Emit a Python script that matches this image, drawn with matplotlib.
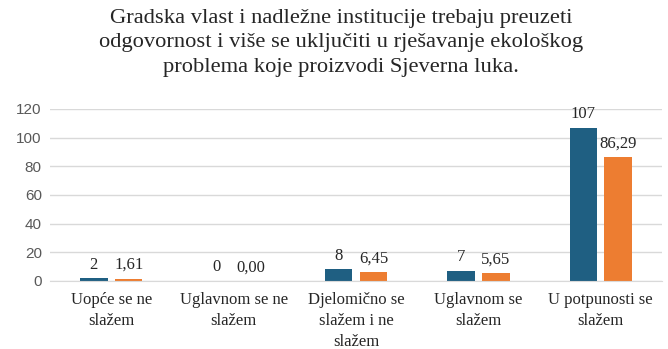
import numpy as np
import matplotlib.pyplot as plt

categories = ['Uopće se ne\nslažem', 'Uglavnom se ne\nslažem', 'Djelomično se\nslažem i ne\nslažem',
              'Uglavnom se\nslažem', 'U potpunosti se\nslažem']
counts = [2, 0, 8, 7, 107]
percents = [1.61, 0.00, 6.45, 5.65, 86.29]

blue = '#1f5f82'
orange = '#ed7d31'
serif = 'Liberation Serif'

fig = plt.figure(figsize=(6.68, 3.49), dpi=100)
ax = fig.add_axes([0.075, 0.195, 0.916, 0.493])

x = np.arange(len(categories))
w = 0.225
b1 = ax.bar(x - w / 2 - 0.03, counts, w, color=blue)
b2 = ax.bar(x + w / 2 + 0.03, percents, w, color=orange)

for bar, v in zip(b1, counts):
    ax.annotate(f'{v}', (bar.get_x() + bar.get_width() / 2, v), xytext=(0, 4),
                textcoords='offset points', ha='center', va='bottom',
                fontsize=12, family=serif, color='#262626')
for bar, v in zip(b2, percents):
    ax.annotate(f'{v:.2f}'.replace('.', ','), (bar.get_x() + bar.get_width() / 2, v), xytext=(0, 4),
                textcoords='offset points', ha='center', va='bottom',
                fontsize=12, family=serif, color='#262626')

ax.set_xlim(-0.5, len(categories) - 0.5)
ax.set_ylim(0, 120)
ax.set_yticks(range(0, 121, 20))
ax.yaxis.grid(True, color='#d9d9d9', linewidth=1)
ax.set_axisbelow(True)
for s in ['top', 'right', 'left']:
    ax.spines[s].set_visible(False)
ax.spines['bottom'].set_color('#d9d9d9')
ax.tick_params(axis='both', length=0)
ax.tick_params(axis='y', labelsize=11, labelcolor='#595959', pad=6)
for lbl in ax.get_yticklabels():
    lbl.set_family('Liberation Sans')
ax.set_xticks(x)
ax.set_xticklabels(categories, fontsize=12, family=serif, color='#262626', linespacing=1.4)
ax.tick_params(axis='x', pad=8)

fig.text(0.511, 0.975, 'Gradska vlast i nadležne institucije trebaju preuzeti\n'
         'odgovornost i više se uključiti u rješavanje ekološkog\n'
         'problema koje proizvodi Sjeverna luka.',
         ha='center', va='top', fontsize=16.2, family=serif, color='#262626', linespacing=1.4)

fig.savefig('out.png', dpi=100)
